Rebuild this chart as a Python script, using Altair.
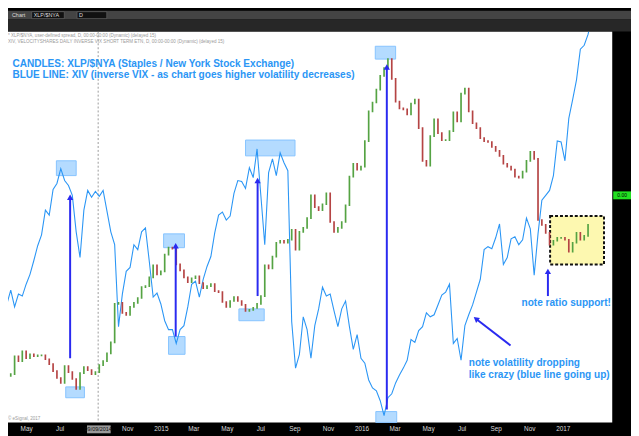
import altair as alt
import pandas as pd

# ---------------- data (value = height in chart units) -------------
week_dates = pd.date_range("2014-03-20", periods=154, freq="7D").strftime("%Y-%m-%d").tolist()

xiv_line = [120, 120, 134, 117, 130, 128, 140, 150, 164, 179, 190, 215, 210, 236, 242, 257,
            245, 240, 230, 193, 167, 215, 235, 228, 234, 229, 235, 214, 193, 180, 97, 130,
            153, 157, 180, 175, 193, 197, 163, 127, 131, 120, 103, 94, 94, 80, 94, 98,
            117, 140, 143, 127, 145, 158, 168, 192, 210, 213, 205, 209, 232, 245, 244, 237,
            258, 248, 277, 229, 180, 253, 267, 250, 273, 263, 255, 102, 55, 69, 107, 94,
            65, 98, 115, 137, 128, 130, 113, 97, 115, 123, 97, 74, 89, 65, 60, 43,
            35, 32, 22, 7, 25, 29, 40, 48, 55, 63, 84, 81, 93, 97, 111, 107,
            109, 119, 129, 132, 140, 80, 85, 63, 98, 109, 119, 132, 145, 175, 178, 176,
            187, 201, 160, 167, 186, 188, 180, 185, 207, 196, 149, 191, 225, 230, 235, 250,
            285, 284, 265, 308, 327, 347, 378, 382, 393, 410]

ratio_close = [51, 47, 49, 67, 62, 72, 65, 69, 67, 68, 68, 64, 59, 52, 45, 40,
               57, 51, 44, 34, 50, 56, 53, 49, 51, 58, 62, 70, 81, 120, 121, 111,
               109, 117, 121, 126, 137, 138, 147, 159, 150, 153, 170, 177, 176, 160, 154, 147,
               142, 146, 148, 141, 136, 138, 140, 133, 132, 122, 117, 123, 127, 123, 119, 113,
               114, 116, 120, 128, 159, 156, 168, 182, 184, 182, 185, 195, 175, 193, 197, 207,
               230, 218, 215, 221, 232, 203, 193, 197, 203, 220, 249, 262, 256, 259, 285, 315,
               324, 337, 351, 359, 368, 348, 325, 318, 317, 312, 323, 327, 298, 265, 260, 290,
               307, 293, 286, 286, 295, 314, 305, 333, 338, 315, 303, 298, 288, 285, 284, 279,
               275, 270, 262, 259, 256, 249, 248, 254, 265, 274, 267, 205, 200, 192, 180, 184,
               187, 187, 185, 173, 182, 192, 185, 189, 200]
ratio_first_open = 52

box_start = ["2014-06-25", "2014-07-12", "2015-01-06", "2015-01-15", "2015-06-04", "2015-05-23", "2016-01-26", "2016-01-27"]
box_end = ["2014-07-31", "2014-08-15", "2015-02-13", "2015-02-14", "2015-09-02", "2015-07-08", "2016-03-03", "2016-03-05"]
box_top = [265, 36, 191, 87, 286, 115, 381, 11]
box_bottom = [250, 25, 177, 69, 270, 103, 368, 0]

support_box_start = ["2016-12-09"]
support_box_end = ["2017-03-17"]
support_box_top = [209]
support_box_bottom = [160]

arrow_date = ["2014-07-20", "2015-01-28", "2015-06-26", "2016-02-16", "2016-12-05"]
arrow_from = [65, 87, 128, 13, 128]
arrow_to = [228, 179, 245, 360, 153]

diag_start = ["2016-09-28"]
diag_end = ["2016-07-27"]
diag_from = [78]
diag_to = [105]

note_dates = ["2014-04-06", "2014-04-06", "2016-10-18", "2016-07-14", "2016-07-14"]
note_values = [359.5, 348.5, 118, 57, 45]
note_texts = ["CANDLES: XLP/$NYA (Staples / New York Stock Exchange)",
              "BLUE LINE: XIV (inverse VIX - as chart goes higher volatility decreases)",
              "note ratio support!",
              "note volatility dropping",
              "like crazy (blue line going up)"]

cursor_date = ["2014-09-09"]
cursor_label = ["09/09/2014"]

tick_dates = [(2014, 5), (2014, 7), (2014, 11), (2015, 1), (2015, 3), (2015, 5), (2015, 7),
              (2015, 9), (2015, 11), (2016, 1), (2016, 3), (2016, 5), (2016, 7), (2016, 9),
              (2016, 11), (2017, 1)]

# ---------------- tables ----------------
line_df = pd.DataFrame({"date": week_dates, "xiv": xiv_line})
opens = [ratio_first_open] + ratio_close[:-1]
candle_df = pd.DataFrame({"date": week_dates[:len(ratio_close)], "open": opens, "close": ratio_close})
candle_df["dir"] = ["up" if c >= o else "down" for o, c in zip(opens, ratio_close)]
box_df = pd.DataFrame({"start": box_start, "end": box_end, "top": box_top, "bottom": box_bottom})
sbox_df = pd.DataFrame({"start": support_box_start, "end": support_box_end,
                        "top": support_box_top, "bottom": support_box_bottom})
arrow_df = pd.DataFrame({"date": arrow_date, "y0": arrow_from, "y1": arrow_to})
diag_df = pd.DataFrame({"d0": diag_start, "d1": diag_end, "y0": diag_from, "y1": diag_to})
note_df = pd.DataFrame({"date": note_dates, "value": note_values, "text": note_texts})
cursor_df = pd.DataFrame({"date": cursor_date, "label": cursor_label})

FONT = "Liberation Sans"
BLUE = "#2b96f5"
ARROW = "#2a2af0"

x_scale = alt.Scale(domain=[alt.DateTime(year=2014, month=3, date=29),
                            alt.DateTime(year=2017, month=4, date=1)])
y_scale = alt.Scale(domain=[0, 396], nice=False, zero=False)
x_axis = alt.Axis(
    values=[alt.DateTime(year=y, month=m, date=1) for y, m in tick_dates],
    labelExpr="month(datum.value) == 0 ? timeFormat(datum.value, '%Y') : timeFormat(datum.value, '%b')",
    domain=False, ticks=False, grid=False, labelColor="#d8d8d8", labelFontSize=6.5,
    labelFont=FONT, labelPadding=3, labelOverlap=False, title=None,
)

def X(field):
    return alt.X(field, type="temporal", scale=x_scale, axis=x_axis, title=None)

def Y(field):
    return alt.Y(field, type="quantitative", scale=y_scale, axis=None)

# ---------------- layers ----------------
support_box = alt.Chart(sbox_df).mark_rect(
    fill="#fdf8b0", stroke="#111111", strokeWidth=2, strokeDash=[3, 2]
).encode(x=X("start"), x2="end:T", y=Y("bottom"), y2="top:Q")

boxes = alt.Chart(box_df).mark_rect(
    fill="#b4dbff", stroke="#86c3ff", strokeWidth=1
).encode(x=X("start"), x2="end:T", y=Y("bottom"), y2="top:Q")

cursor_rule = alt.Chart(cursor_df).mark_rule(
    color="#9a9a9a", strokeDash=[2, 2], strokeWidth=1
).encode(x=X("date"))

xiv = alt.Chart(line_df).mark_line(color=BLUE, strokeWidth=1.1, clip=True).encode(
    x=X("date"), y=Y("xiv"))

candles = alt.Chart(candle_df).mark_rule(strokeWidth=1.7, strokeCap="square", clip=True).encode(
    x=X("date"), y=Y("open"), y2="close:Q",
    color=alt.Color("dir:N", scale=alt.Scale(domain=["up", "down"], range=["#55a343", "#b54444"]), legend=None),
)

arrows = alt.Chart(arrow_df).mark_rule(color=ARROW, strokeWidth=2).encode(
    x=X("date"), y=Y("y0"), y2="y1:Q")
heads = alt.Chart(arrow_df).mark_point(shape="triangle-up", filled=True, color=ARROW, size=40, opacity=1).encode(
    x=X("date"), y=Y("y1"))
diag = alt.Chart(diag_df).mark_rule(color=ARROW, strokeWidth=2).encode(
    x=X("d0"), x2="d1:T", y=Y("y0"), y2="y1:Q")
diag_head = alt.Chart(diag_df).mark_point(shape="triangle-up", filled=True, color=ARROW, size=40,
                                          angle=308, opacity=1).encode(x=X("d1"), y=Y("y1"))

notes = alt.Chart(note_df).mark_text(
    align="left", baseline="alphabetic", font=FONT, fontWeight="bold", fontSize=10.2, color=BLUE
).encode(x=X("date"), y=Y("value"), text="text:N")

# ---------------- frame decorations (screen furniture, not data) ----------------
deco = pd.DataFrame({"k": [0]})
toolbar_top = alt.Chart(deco).mark_rect(fill="#444444").encode(
    x=alt.value(0), x2=alt.value(631), y=alt.value(-21), y2=alt.value(-12))
toolbar_bottom = alt.Chart(deco).mark_rect(fill="#272727").encode(
    x=alt.value(0), x2=alt.value(631), y=alt.value(-12), y2=alt.value(0))
symbol_box = alt.Chart(deco).mark_rect(fill="#111111", stroke="#777777", strokeWidth=0.5).encode(
    x=alt.value(24), x2=alt.value(57), y=alt.value(-20), y2=alt.value(-13))
interval_box = alt.Chart(deco).mark_rect(fill="#111111", stroke="#777777", strokeWidth=0.5).encode(
    x=alt.value(70), x2=alt.value(100), y=alt.value(-20), y2=alt.value(-13))
tb_text = alt.Chart(pd.DataFrame({"t": ["Chart", "XLP/$NYA", "D"], "xp": [4, 26, 72]})).mark_text(
    align="left", baseline="middle", font=FONT, fontSize=5.5, color="#dddddd"
).encode(x=alt.X("xp:Q", scale=None), y=alt.value(-16.5), text="t:N")

hdr = alt.Chart(pd.DataFrame({
    "t": ["* XLP/$NYA, user-defined spread, D, 00:00-00:00 (Dynamic) (delayed 15)",
          "XIV, VELOCITYSHARES DAILY INVERSE VIX SHORT TERM ETN, D, 00:00-00:00 (Dynamic) (delayed 15)",
          "\u00a9 eSignal, 2017"],
    "yp": [5, 11, 393]})).mark_text(
    align="left", baseline="middle", font=FONT, fontSize=4.6, color="#9a9a9a"
).encode(x=alt.value(0), y=alt.Y("yp:Q", scale=None), text="t:N")

price_tag = alt.Chart(deco).mark_rect(fill="#22e022").encode(
    x=alt.value(613), x2=alt.value(631), y=alt.value(162), y2=alt.value(170))
price_text = alt.Chart(deco).mark_text(font=FONT, fontSize=5, color="#000000", baseline="middle").encode(
    x=alt.value(622), y=alt.value(166), text=alt.value("0.00"))

cursor_box = alt.Chart(deco).mark_rect(fill="#9a9a9a").encode(
    x=alt.value(80), x2=alt.value(104), y=alt.value(399), y2=alt.value(407))
cursor_text = alt.Chart(cursor_df).mark_text(font=FONT, fontSize=5.5, color="#111111", baseline="middle").encode(
    x=X("date"), y=alt.value(403), text="label:N")

chart = alt.layer(
    support_box, boxes, cursor_rule, xiv, candles, arrows, heads, diag, diag_head, notes,
    toolbar_top, toolbar_bottom, symbol_box, interval_box, tb_text, hdr,
    price_tag, price_text, cursor_box, cursor_text,
).properties(
    width=612, height=396,
    padding={"left": 0, "top": 21, "right": 19, "bottom": 11},
    autosize=alt.AutoSizeParams(type="none"),
    background="#000000",
).configure_view(fill="white", stroke=None)

chart.save("out.html", embed_options={"renderer": "svg", "actions": False})
